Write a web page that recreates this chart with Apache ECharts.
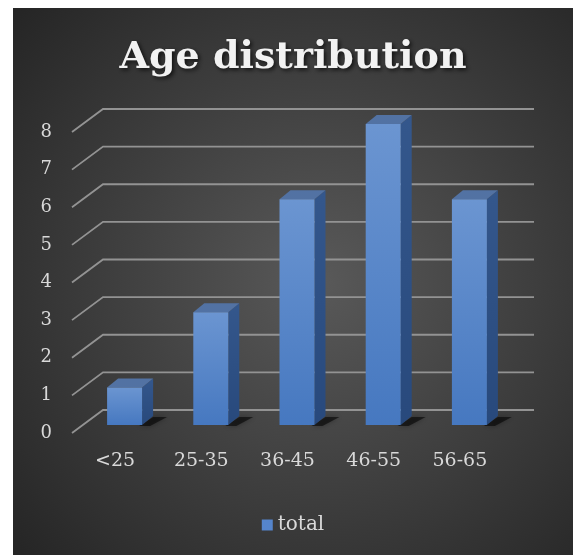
<!DOCTYPE html>
<html>
<head>
<meta charset="utf-8">
<script src="https://cdn.jsdelivr.net/npm/echarts@6/dist/echarts.min.js"></script>
<style>
    html, body { margin: 0; padding: 0; background: #fff; }
    #ageChart { position: absolute; left: 13px; top: 8px; width: 560px; height: 547px; }
</style>
</head>
<body>
<div id="ageChart"></div>
<script>
// chart data
var categories = ['<25', '25-35', '36-45', '46-55', '56-65'];
var totals = [1, 3, 6, 8, 6];
var yTicks = [0, 1, 2, 3, 4, 5, 6, 7, 8];

// fake 3d depth (pixels)
var WALL_DX = 31, WALL_DY = -23;
var BAR_DX = 9.5, BAR_DY = -8;
var SIDE_DX = 11, SIDE_DY = -9;
var BAR_W = 35;

var labelFont = 'DejaVu Serif';

var chartDom = document.getElementById('ageChart');
var ageChart = echarts.init(chartDom);
var option;

function renderGridLine(params, api) {
    var p = api.coord([api.value(0), api.value(1)]);
    var x0 = params.coordSys.x;
    var x1 = params.coordSys.x + params.coordSys.width;
    var y = p[1];
    return {
        type: 'polyline',
        shape: {
            points: [[x0, y], [x0 + WALL_DX, y + WALL_DY], [x1 + WALL_DX, y + WALL_DY]]
        },
        style: { stroke: '#939393', lineWidth: 1.8, fill: null }
    };
}

function renderBar(params, api) {
    var base = api.coord([api.value(0), 0]);
    var top = api.coord([api.value(0), api.value(1)]);
    var cx = base[0] + BAR_DX;
    var xl = cx - BAR_W / 2, xr = cx + BAR_W / 2;
    var yb = base[1] + BAR_DY, yt = top[1] + BAR_DY;
    return {
        type: 'group',
        children: [
            {
                type: 'polygon',
                shape: { points: [[xr - 3, yb + 1], [xr + SIDE_DX, yb + SIDE_DY + 1], [xr + SIDE_DX + 14, yb + SIDE_DY + 1], [xr + 8, yb + 1]] },
                style: { fill: 'rgba(0,0,0,0.55)', shadowBlur: 5, shadowColor: 'rgba(0,0,0,0.6)' }
            },
            {
                type: 'polygon',
                shape: { points: [[xr, yt], [xr + SIDE_DX, yt + SIDE_DY], [xr + SIDE_DX, yb + SIDE_DY], [xr, yb]] },
                style: {
                    fill: new echarts.graphic.LinearGradient(0, 0, 0, 1, [
                        { offset: 0, color: '#34578c' },
                        { offset: 1, color: '#28497c' }
                    ])
                }
            },
            {
                type: 'polygon',
                shape: { points: [[xl, yt], [xr, yt], [xr + SIDE_DX, yt + SIDE_DY], [xl + SIDE_DX, yt + SIDE_DY]] },
                style: { fill: '#5272a3' }
            },
            {
                type: 'rect',
                shape: { x: xl, y: yt, width: BAR_W, height: yb - yt },
                style: {
                    fill: new echarts.graphic.LinearGradient(0, 0, 0, 1, [
                        { offset: 0, color: '#6b95d1' },
                        { offset: 1, color: '#4678c0' }
                    ])
                }
            }
        ]
    };
}

option = {
    backgroundColor: new echarts.graphic.RadialGradient(0.55, 0.5, 0.75, [
        { offset: 0, color: '#595959' },
        { offset: 1, color: '#252525' }
    ]),
    title: {
        text: 'Age distribution',
        left: 'center',
        top: 26,
        textStyle: {
            color: '#f2f2f2',
            fontFamily: labelFont,
            fontWeight: 'bold',
            fontSize: 38,
            textShadowColor: 'rgba(0,0,0,0.7)',
            textShadowBlur: 4,
            textShadowOffsetX: 2,
            textShadowOffsetY: 2
        }
    },
    legend: {
        data: ['total'],
        left: 'center',
        top: 502,
        icon: 'rect',
        itemWidth: 11,
        itemHeight: 11,
        itemGap: 6,
        itemStyle: { color: '#5585cc' },
        textStyle: { color: '#d9d9d9', fontFamily: labelFont, fontSize: 20 }
    },
    grid: {
        left: 59,
        top: 124,
        width: 431,
        height: 301
    },
    xAxis: {
        type: 'category',
        data: categories,
        axisLine: { show: false },
        axisTick: { show: false },
        axisLabel: {
            color: '#d9d9d9',
            fontFamily: labelFont,
            fontSize: 19,
            margin: 19
        }
    },
    yAxis: {
        type: 'value',
        min: 0,
        max: 8,
        interval: 1,
        splitLine: { show: false },
        axisLine: { show: false },
        axisTick: { show: false },
        axisLabel: {
            color: '#d9d9d9',
            fontFamily: labelFont,
            fontSize: 18,
            margin: 20
        }
    },
    series: [
        {
            name: 'gridlines',
            type: 'custom',
            silent: true,
            z: 1,
            renderItem: renderGridLine,
            encode: { x: 0, y: 1 },
            data: yTicks.map(function (v) { return [0, v]; })
        },
        {
            name: 'total',
            type: 'custom',
            z: 2,
            itemStyle: { color: '#5585cc' },
            renderItem: renderBar,
            encode: { x: 0, y: 1 },
            data: totals.map(function (v, i) { return [i, v]; })
        }
    ]
};

if (option && typeof option === "object") {
    ageChart.setOption(option);
}

window.addEventListener('resize', function () {
    ageChart.resize();
});
</script>
</body>
</html>
